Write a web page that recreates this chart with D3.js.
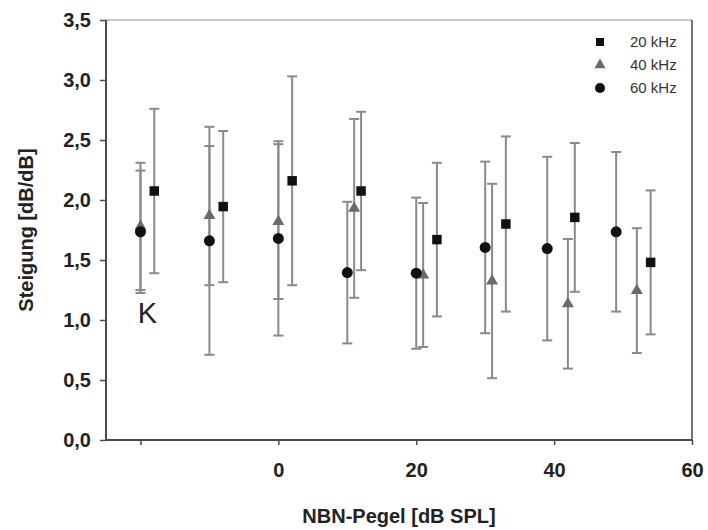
<!DOCTYPE html>
<html>
<head>
<meta charset="utf-8">
<script src="https://cdn.jsdelivr.net/npm/d3@7"></script>
<style>
  html, body { margin: 0; padding: 0; background: #fff; }
  svg { display: block; font-family: "Liberation Sans", Arial, sans-serif; }
</style>
</head>
<body>
<svg id="chart" width="708" height="530"></svg>
<script>
// Slope of growth functions vs. noise level, three frequencies (mean ± SD)
const seriesNames = ["20 kHz", "40 kHz", "60 kHz"];

const x20 = [-18, -8, 2, 12, 23, 33, 43, 54];
const mean20 = [2.075, 1.945, 2.16, 2.075, 1.67, 1.80, 1.855, 1.48];
const sd20 = [0.685, 0.63, 0.87, 0.66, 0.64, 0.73, 0.62, 0.60];

const x40 = [-20, -10, 0, 11, 21, 31, 42, 52];
const mean40 = [1.78, 1.87, 1.82, 1.93, 1.375, 1.325, 1.135, 1.245];
const sd40 = [0.53, 0.58, 0.645, 0.745, 0.60, 0.81, 0.54, 0.52];

const x60 = [-20, -10, 0, 10, 20, 30, 39, 49];
const mean60 = [1.735, 1.66, 1.68, 1.395, 1.39, 1.605, 1.595, 1.735];
const sd60 = [0.51, 0.95, 0.81, 0.59, 0.63, 0.715, 0.765, 0.665];

const xTicks = [-20, 0, 20, 40, 60];
const xTickLabels = ["", "0", "20", "40", "60"];
const yTicks = [0, 0.5, 1, 1.5, 2, 2.5, 3, 3.5];

const svg = d3.select("#chart");
const plotL = 106, plotR = 692, plotT = 20, plotB = 440;

const x = d3.scaleLinear().domain([-25, 60]).range([plotL, plotR]);
const y = d3.scaleLinear().domain([0, 3.5]).range([plotB, plotT]);

const fmt = d => d3.format(".1f")(d).replace(".", ",");

// frame: top light, right dark
svg.append("line").attr("x1", plotL).attr("x2", plotR).attr("y1", plotT).attr("y2", plotT)
  .attr("stroke", "#b4b4b4").attr("stroke-width", 1.5);
svg.append("line").attr("x1", plotR).attr("x2", plotR).attr("y1", plotT).attr("y2", plotB)
  .attr("stroke", "#444").attr("stroke-width", 1.5);

// axes
const yAxis = svg.append("g").attr("transform", `translate(${plotL},0)`)
  .call(d3.axisLeft(y).tickValues(yTicks).tickFormat(fmt).tickSize(6).tickPadding(9));
const xAxis = svg.append("g").attr("transform", `translate(0,${plotB})`)
  .call(d3.axisBottom(x).tickValues(xTicks).tickFormat((d, i) => xTickLabels[i]).tickSize(5).tickPadding(18));

[yAxis, xAxis].forEach(g => {
  g.select(".domain").attr("stroke", "#4a4a4a").attr("stroke-width", 2);
  g.selectAll(".tick line").attr("stroke", "#4a4a4a").attr("stroke-width", 1.5);
  g.selectAll(".tick text").attr("fill", "#222").attr("font-size", 20).attr("font-weight", "bold")
    .attr("font-family", "'Liberation Sans', Arial, sans-serif");
});
xAxis.select(".domain").attr("d", `M${plotL},0H${plotR}`);
yAxis.select(".domain").attr("d", `M0,${plotB}V${plotT}`);

// axis titles
svg.append("text").attr("x", (plotL + plotR) / 2).attr("y", 523).attr("text-anchor", "middle")
  .attr("font-size", 20).attr("font-weight", "bold").attr("fill", "#222")
  .text("NBN-Pegel [dB SPL]");
svg.append("text").attr("transform", `translate(33,${(plotT + plotB) / 2}) rotate(-90)`)
  .attr("text-anchor", "middle").attr("font-size", 20).attr("font-weight", "bold").attr("fill", "#222")
  .text("Steigung [dB/dB]");

// control label
svg.append("text").attr("x", x(-19)).attr("y", 323).attr("text-anchor", "middle")
  .attr("font-size", 29).attr("fill", "#222").text("K");

const series = [
  { name: seriesNames[2], xs: x60, m: mean60, s: sd60, shape: d3.symbolCircle, size: 95, color: "#111" },
  { name: seriesNames[1], xs: x40, m: mean40, s: sd40, shape: d3.symbolTriangle, size: 62, color: "#6a6a6a" },
  { name: seriesNames[0], xs: x20, m: mean20, s: sd20, shape: d3.symbolSquare, size: 90, color: "#111" }
];

const capW = 5;
series.forEach(sr => {
  const pts = sr.xs.map((xv, i) => ({ x: xv, m: sr.m[i], s: sr.s[i] }));
  const g = svg.append("g");
  const eb = g.selectAll("g.eb").data(pts).join("g").attr("stroke", "#8a8a8a").attr("stroke-width", 2);
  eb.append("line").attr("x1", d => x(d.x)).attr("x2", d => x(d.x))
    .attr("y1", d => y(d.m + d.s)).attr("y2", d => y(d.m - d.s));
  eb.append("line").attr("x1", d => x(d.x) - capW).attr("x2", d => x(d.x) + capW)
    .attr("y1", d => y(d.m + d.s)).attr("y2", d => y(d.m + d.s));
  eb.append("line").attr("x1", d => x(d.x) - capW).attr("x2", d => x(d.x) + capW)
    .attr("y1", d => y(d.m - d.s)).attr("y2", d => y(d.m - d.s));
});
// markers over the bars; triangles beneath circles where they coincide
[series[1], series[0], series[2]].forEach(sr => {
  svg.append("g").selectAll("path").data(sr.xs.map((xv, i) => ({ x: xv, m: sr.m[i] })))
    .join("path")
    .attr("transform", d => `translate(${x(d.x)},${y(d.m)})`)
    .attr("d", d3.symbol().type(sr.shape).size(sr.size))
    .attr("fill", sr.color);
});

// legend
const legend = [
  { name: seriesNames[0], shape: d3.symbolSquare, size: 64, color: "#111" },
  { name: seriesNames[1], shape: d3.symbolTriangle, size: 55, color: "#6a6a6a" },
  { name: seriesNames[2], shape: d3.symbolCircle, size: 80, color: "#111" }
];
const lg = svg.append("g").selectAll("g").data(legend).join("g")
  .attr("transform", (d, i) => `translate(600,${42 + i * 23})`);
lg.append("path").attr("d", d => d3.symbol().type(d.shape).size(d.size)()).attr("fill", d => d.color);
lg.append("text").attr("x", 30).attr("y", 5).attr("font-size", 15).attr("fill", "#333").text(d => d.name);
</script>
</body>
</html>
